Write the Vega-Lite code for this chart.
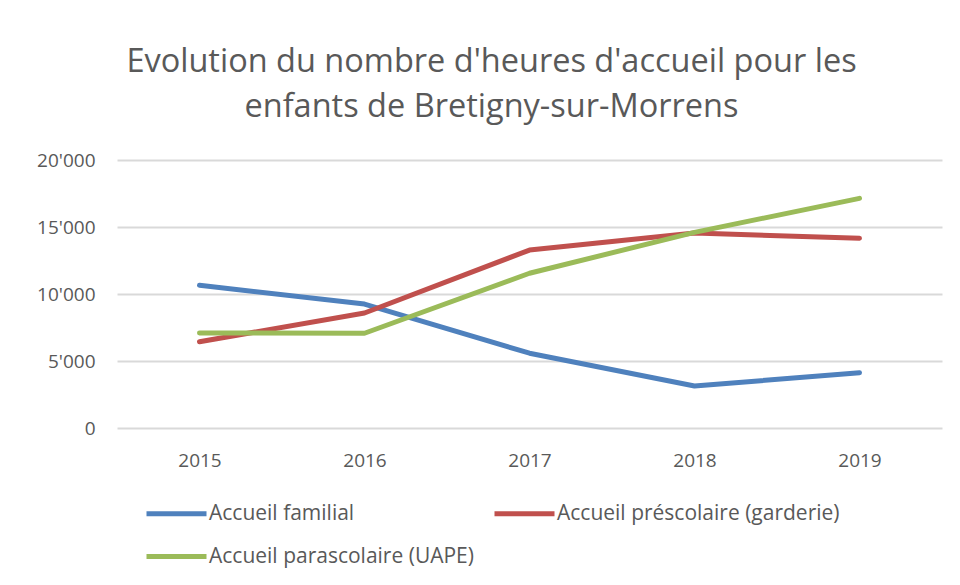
{
  "$schema": "https://vega.github.io/schema/vega-lite/v6.json",
  "width": 825,
  "height": 268,
  "autosize": {"type": "none"},
  "padding": {"left": 117, "top": 160, "right": 18, "bottom": 157},
  "background": "white",
  "title": {
    "text": ["Evolution du nombre d'heures d'accueil pour les", "enfants de Bretigny-sur-Morrens"],
    "font": "Open Sans",
    "fontSize": 32.5,
    "fontWeight": "normal",
    "color": "#595959",
    "anchor": "middle",
    "dx": -38,
    "offset": 28,
    "lineHeight": 45
  },
  "data": {
    "values": [
      {"year": "2015", "series": "Accueil familial", "hours": 10650},
      {"year": "2016", "series": "Accueil familial", "hours": 9250},
      {"year": "2017", "series": "Accueil familial", "hours": 5580},
      {"year": "2018", "series": "Accueil familial", "hours": 3130},
      {"year": "2019", "series": "Accueil familial", "hours": 4130},
      {"year": "2015", "series": "Accueil préscolaire (garderie)", "hours": 6440},
      {"year": "2016", "series": "Accueil préscolaire (garderie)", "hours": 8580},
      {"year": "2017", "series": "Accueil préscolaire (garderie)", "hours": 13280},
      {"year": "2018", "series": "Accueil préscolaire (garderie)", "hours": 14550},
      {"year": "2019", "series": "Accueil préscolaire (garderie)", "hours": 14160},
      {"year": "2015", "series": "Accueil parascolaire (UAPE)", "hours": 7090},
      {"year": "2016", "series": "Accueil parascolaire (UAPE)", "hours": 7070},
      {"year": "2017", "series": "Accueil parascolaire (UAPE)", "hours": 11550},
      {"year": "2018", "series": "Accueil parascolaire (UAPE)", "hours": 14600},
      {"year": "2019", "series": "Accueil parascolaire (UAPE)", "hours": 17140}
    ]
  },
  "mark": {"type": "line", "strokeWidth": 5, "strokeCap": "round", "strokeJoin": "round"},
  "encoding": {
    "x": {
      "field": "year",
      "type": "ordinal",
      "scale": {"type": "point", "padding": 0.5},
      "axis": {
        "title": null,
        "labelAngle": 0,
        "ticks": false,
        "domain": false,
        "grid": false,
        "labelPadding": 23,
        "labelFont": "Open Sans",
        "labelFontSize": 19,
        "labelColor": "#595959"
      }
    },
    "y": {
      "field": "hours",
      "type": "quantitative",
      "scale": {"domain": [0, 20000], "nice": false},
      "axis": {
        "title": null,
        "values": [0, 5000, 10000, 15000, 20000],
        "labelExpr": "replace(format(datum.value, ','), ',', \"'\")",
        "ticks": false,
        "domain": false,
        "gridColor": "#D9D9D9",
        "gridWidth": 2,
        "labelPadding": 22,
        "labelFont": "Open Sans",
        "labelFontSize": 19,
        "labelColor": "#595959"
      }
    },
    "color": {
      "field": "series",
      "type": "nominal",
      "scale": {
        "domain": ["Accueil familial", "Accueil préscolaire (garderie)", "Accueil parascolaire (UAPE)"],
        "range": ["#4F81BD", "#C0504D", "#9BBB59"]
      },
      "legend": {
        "title": null,
        "orient": "none",
        "legendX": 27,
        "legendY": 321,
        "direction": "horizontal",
        "columns": 2,
        "columnPadding": 10,
        "rowPadding": -20,
        "symbolType": "stroke",
        "symbolSize": 3600,
        "symbolStrokeWidth": 5,
        "labelOffset": 0,
        "labelFont": "Open Sans",
        "labelFontSize": 21,
        "labelColor": "#595959",
        "labelLimit": 400
      }
    }
  },
  "config": {"view": {"stroke": null}}
}
